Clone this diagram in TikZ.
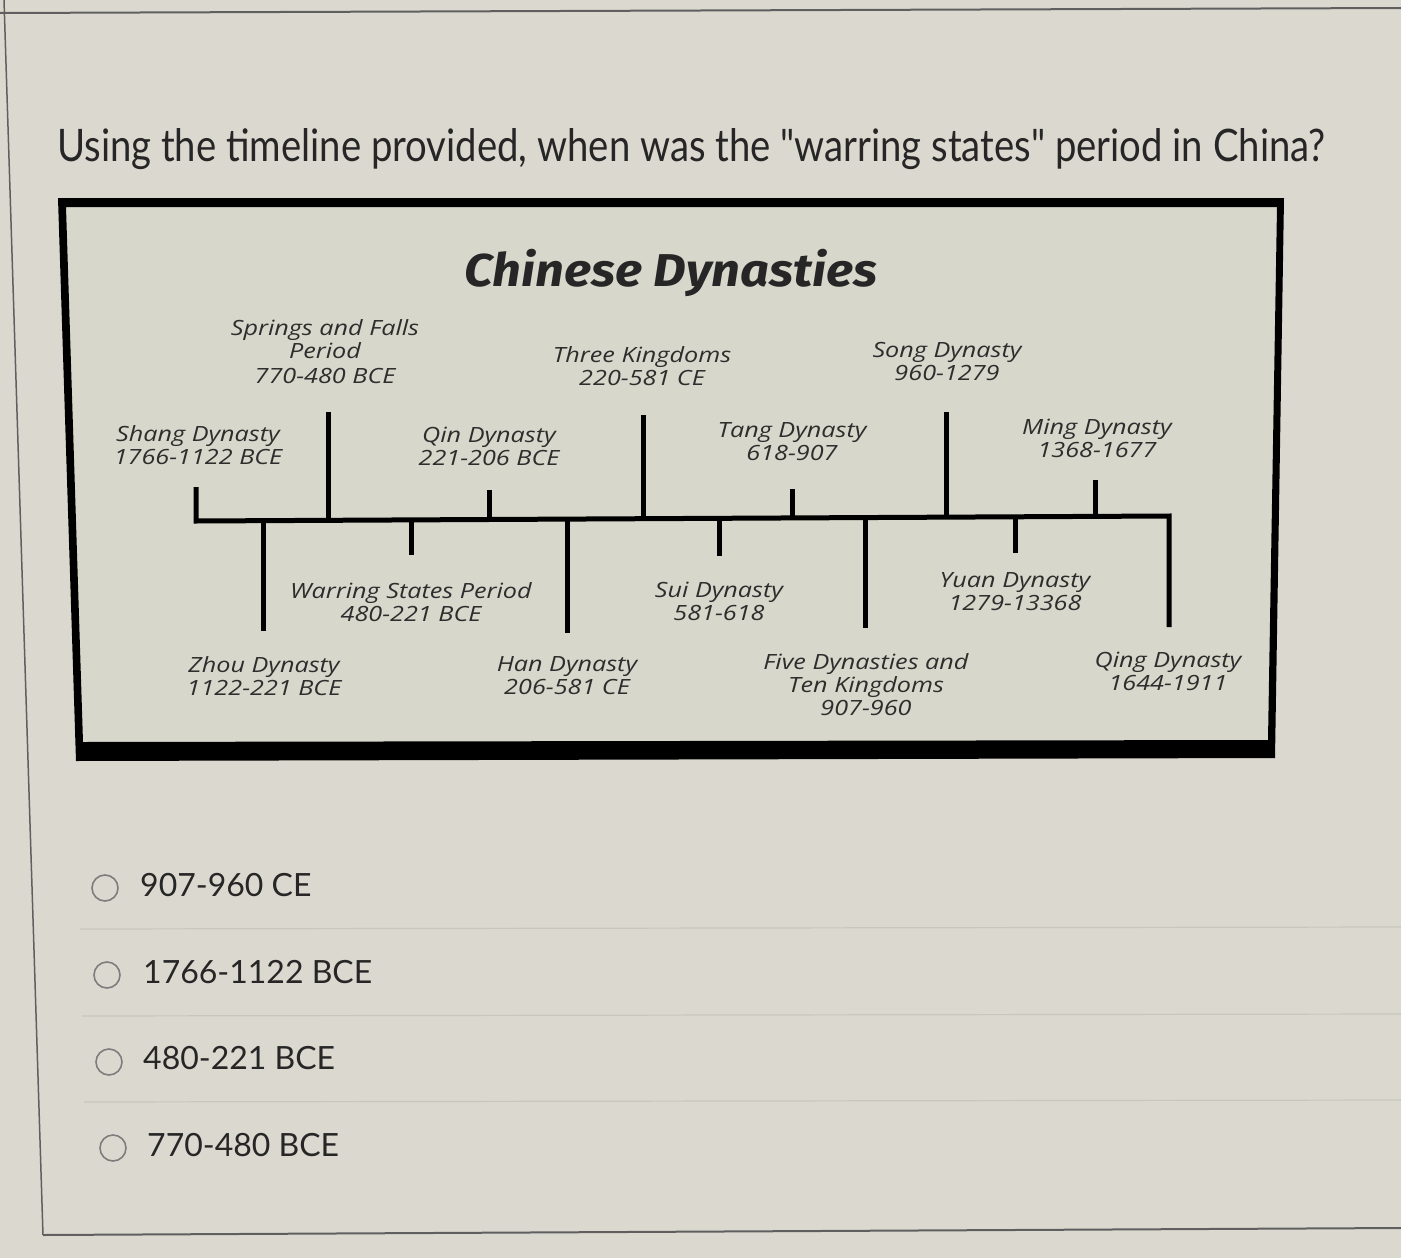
\documentclass[tikz,border=0pt]{standalone}
\usepackage{fontspec}
\usepackage{graphicx}
\setmainfont{Lato}
\newfontfamily\labfont[FakeStretch=1.2]{Open Sans}
\newfontfamily\headfont[FakeStretch=1.1]{Fira Sans}
\newcommand{\straightq}{\XeTeXglyph\XeTeXcharglyph"22\relax}
\definecolor{bgcol}{RGB}{219,217,207}
\definecolor{boxbg}{RGB}{216,215,203}
\definecolor{labcol}{RGB}{45,45,45}
\definecolor{txtcol}{RGB}{38,38,38}
\definecolor{pagecol}{RGB}{95,95,95}
\definecolor{sepcol}{RGB}{200,199,190}
\definecolor{radiocol}{RGB}{125,125,125}
\begin{document}
\begin{tikzpicture}[x=1pt,y=-1pt,
  tline/.style={line width=5pt, black, line cap=butt},
  lab/.style={font=\labfont\itshape\fontsize{21}{23}\selectfont, text=labcol, align=center, inner sep=0pt},
  opt/.style={font=\fontsize{32}{36}\selectfont, text=txtcol, anchor=base west, inner sep=0pt},
  radio/.style={circle, draw=radiocol, line width=1.6pt, minimum size=26pt, inner sep=0pt}]
\useasboundingbox (0,0) rectangle (1401,1258);
\fill[bgcol] (0,0) rectangle (1401,1258);
% page edges
\draw[pagecol, line width=2pt] (0,13) -- (1401,8);
\draw[pagecol, line width=1.5pt] (4,0) -- (43,1235);
\draw[pagecol, line width=2pt] (43,1235) -- (1401,1228);
% question
\node[anchor=base west, inner sep=0pt, text=txtcol] (q) at (57,161)
  {\resizebox{1268pt}{33pt}{Using the timeline provided, when was the \straightq warring states\straightq{} period in China?}};
% timeline frame
\fill[boxbg] (66,207) -- (1277,207) -- (1268,740) -- (83,742) -- cycle;
\fill[black, even odd rule] (58,198) -- (1284,198) -- (1275,758) -- (76,761) -- cycle
  (66,207) -- (1277,207) -- (1268,740) -- (83,742) -- cycle;
\node[font=\headfont\bfseries\itshape\fontsize{46}{50}\selectfont, text=black!85, inner sep=0pt] (title) at (671,273) {Chinese Dynasties};
% main line coordinates
\coordinate (shangT) at (196,487);
\coordinate (L) at (196,521);
\coordinate (R) at (1169,516);
\coordinate (qingB) at (1169,627);
\draw[tline, line join=miter] (shangT) -- (L) -- (R) -- (qingB);
% upward ticks
\coordinate (springsB) at (328,520.3); \coordinate (springsT) at (328,412);
\coordinate (qinB) at (489,519.5); \coordinate (qinT) at (489,490);
\coordinate (threeB) at (643,518.7); \coordinate (threeT) at (643,415);
\coordinate (tangB) at (792,517.9); \coordinate (tangT) at (792,489);
\coordinate (songB) at (946,517.2); \coordinate (songT) at (946,412);
\coordinate (mingB) at (1095,516.4); \coordinate (mingT) at (1095,480);
\foreach \n in {springs,qin,three,tang,song,ming}{\draw[tline] (\n B) -- (\n T);}
% downward ticks
\coordinate (zhouT) at (263,520.7); \coordinate (zhouE) at (263,631);
\coordinate (warT) at (411,519.9); \coordinate (warE) at (411,555);
\coordinate (hanT) at (567,519.1); \coordinate (hanE) at (567,633);
\coordinate (suiT) at (719,518.3); \coordinate (suiE) at (719,556);
\coordinate (fiveT) at (865,517.6); \coordinate (fiveE) at (865,628);
\coordinate (yuanT) at (1015,516.8); \coordinate (yuanE) at (1015,553);
\foreach \n in {zhou,war,han,sui,five,yuan}{\draw[tline] (\n T) -- (\n E);}
% labels
\node[lab] (shang) at (198,445) {Shang Dynasty\\1766-1122 BCE};
\node[lab] (springs) at (325,352) {Springs and Falls\\Period\\[2pt]770-480 BCE};
\node[lab] (qin) at (489,446) {Qin Dynasty\\221-206 BCE};
\node[lab] (three) at (642,366) {Three Kingdoms\\220-581 CE};
\node[lab] (tang) at (792,442) {Tang Dynasty\\618-907};
\node[lab] (song) at (947,361) {Song Dynasty\\960-1279};
\node[lab] (ming) at (1097,438) {Ming Dynasty\\1368-1677};
\node[lab] (zhou) at (264,676) {Zhou Dynasty\\1122-221 BCE};
\node[lab] (war) at (411,602) {Warring States Period\\480-221 BCE};
\node[lab] (han) at (567,676) {Han Dynasty\\206-581 CE};
\node[lab] (sui) at (719,601) {Sui Dynasty\\581-618};
\node[lab] (five) at (866,685) {Five Dynasties and\\Ten Kingdoms\\907-960};
\node[lab] (yuan) at (1015,592) {Yuan Dynasty\\1279-13368};
\node[lab] (qing) at (1168,671) {Qing Dynasty\\1644-1911};
% option separators
\draw[sepcol, line width=1.2pt] (80,929) -- (1401,927);
\draw[sepcol, line width=1.2pt] (82,1016) -- (1401,1014);
\draw[sepcol, line width=1.2pt] (84,1102) -- (1401,1100);
% options
\node[radio] (r1) at (105,888) {};
\node[radio] (r2) at (107,975) {};
\node[radio] (r3) at (109,1062) {};
\node[radio] (r4) at (113,1148) {};
\node[opt] (o1) at (140,896) {907-960 CE};
\node[opt] (o2) at (143,983) {1766-1122 BCE};
\node[opt] (o3) at (143,1069) {480-221 BCE};
\node[opt] (o4) at (147,1156) {770-480 BCE};
\end{tikzpicture}
\end{document}
